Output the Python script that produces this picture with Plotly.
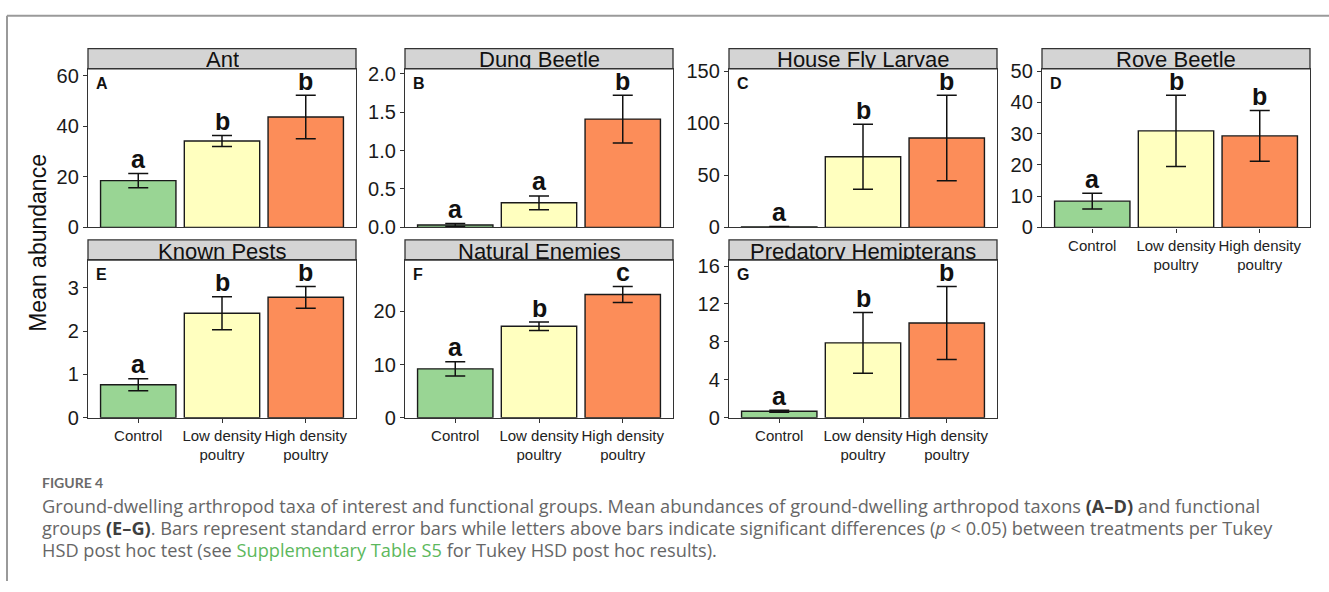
import plotly.graph_objects as go

W, H = 1329, 592

# ---------------- data ----------------
categories = ["Control", "Low density<br>poultry", "High density<br>poultry"]
bar_colors = ["#99D594", "#FFFFBF", "#FC8D59"]

panel_titles = ["Ant", "Dung Beetle", "House Fly Larvae", "Rove Beetle",
                "Known Pests", "Natural Enemies", "Predatory Hemipterans"]
panel_tags = ["A", "B", "C", "D", "E", "F", "G"]

ant_mean = [18.5, 34.2, 43.7]
ant_se = [2.8, 2.2, 8.6]
ant_letters = ["a", "b", "b"]

dung_mean = [0.03, 0.32, 1.41]
dung_se = [0.02, 0.09, 0.31]
dung_letters = ["a", "a", "b"]

fly_mean = [0.5, 67.8, 85.9]
fly_se = [0.3, 31.2, 41.0]
fly_letters = ["a", "b", "b"]

rove_mean = [8.4, 30.9, 29.3]
rove_se = [2.5, 11.4, 8.1]
rove_letters = ["a", "b", "b"]

pests_mean = [0.76, 2.41, 2.78]
pests_se = [0.14, 0.38, 0.25]
pests_letters = ["a", "b", "b"]

enemies_mean = [9.2, 17.2, 23.2]
enemies_se = [1.35, 0.8, 1.5]
enemies_letters = ["a", "b", "c"]

hemi_mean = [0.68, 7.9, 10.0]
hemi_se = [0.1, 3.2, 3.85]
hemi_letters = ["a", "b", "b"]

y_ticks = [
    [0, 20, 40, 60],
    [0.0, 0.5, 1.0, 1.5, 2.0],
    [0, 50, 100, 150],
    [0, 10, 20, 30, 40, 50],
    [0, 1, 2, 3],
    [0, 10, 20],
    [0, 4, 8, 12, 16],
]
y_ticktext = [
    ["0", "20", "40", "60"],
    ["0.0", "0.5", "1.0", "1.5", "2.0"],
    ["0", "50", "100", "150"],
    ["0", "10", "20", "30", "40", "50"],
    ["0", "1", "2", "3"],
    ["0", "10", "20"],
    ["0", "4", "8", "12", "16"],
]

means = [ant_mean, dung_mean, fly_mean, rove_mean, pests_mean, enemies_mean, hemi_mean]
ses = [ant_se, dung_se, fly_se, rove_se, pests_se, enemies_se, hemi_se]
letters = [ant_letters, dung_letters, fly_letters, rove_letters,
           pests_letters, enemies_letters, hemi_letters]

# ---------------- layout geometry (pixels) ----------------
cols_x = [(88, 356), (405, 673), (729, 997), (1042, 1310)]
rows_y = [(62, 226), (260, 423)]
strip_h = 21
panel_pos = [(0, 0), (0, 1), (0, 2), (0, 3), (1, 0), (1, 1), (1, 2)]
show_xlabels = [False, False, False, True, True, True, True]

FONT = "Liberation Sans, Arial, sans-serif"
LINEC = "#333333"


def fx(px):
    return px / W


def fy(py):
    return 1 - py / H


fig = go.Figure()
shapes = []
annotations = []
layout = {}

for i in range(7):
    n = i + 1
    r, c = panel_pos[i]
    x0, x1 = cols_x[c]
    y0, y1 = rows_y[r]
    xa = "x" if n == 1 else f"x{n}"
    ya = "y" if n == 1 else f"y{n}"

    tops = [m + s for m, s in zip(means[i], ses[i])]
    ymax = 1.2 * max(tops)

    fig.add_trace(go.Bar(
        x=categories, y=means[i],
        error_y=dict(type="data", array=ses[i], visible=True,
                     color="#111111", thickness=1.5, width=10),
        marker=dict(color=bar_colors, line=dict(color="#1a1a1a", width=1.4)),
        xaxis=xa, yaxis=ya, showlegend=False, hoverinfo="skip",
    ))

    layout["xaxis" if n == 1 else f"xaxis{n}"] = dict(
        domain=[fx(x0), fx(x1)], anchor=ya,
        type="category", categoryorder="array", categoryarray=categories,
        range=[-0.6, 2.6],
        showline=True, mirror=True, linecolor=LINEC, linewidth=1.3,
        showgrid=False, zeroline=False,
        ticks="outside" if show_xlabels[i] else "",
        ticklen=4, tickwidth=1.2, tickcolor=LINEC,
        showticklabels=show_xlabels[i], tickangle=0,
        tickfont=dict(family=FONT, size=15, color="#222222"),
        fixedrange=True,
    )
    layout["yaxis" if n == 1 else f"yaxis{n}"] = dict(
        domain=[fy(y1), fy(y0)], anchor=xa,
        range=[0, ymax],
        tickvals=y_ticks[i], ticktext=y_ticktext[i],
        showline=True, mirror=True, linecolor=LINEC, linewidth=1.3,
        showgrid=False, zeroline=False,
        ticks="outside", ticklen=4, tickwidth=1.2, tickcolor=LINEC,
        tickfont=dict(family=FONT, size=20, color="#1a1a1a"),
        fixedrange=True,
    )

    # strip
    shapes.append(dict(type="rect", xref="paper", yref="paper",
                       x0=fx(x0), x1=fx(x1), y0=fy(y0), y1=fy(y0 - strip_h),
                       fillcolor="#D4D4D4", line=dict(color=LINEC, width=1.3),
                       layer="below"))
    annotations.append(dict(xref="paper", yref="paper",
                            x=fx((x0 + x1) / 2), y=fy(y0 - strip_h / 2 + 1),
                            text=panel_titles[i], showarrow=False,
                            xanchor="center", yanchor="middle",
                            height=17, valign="middle",
                            font=dict(family=FONT, size=22, color="#111111")))
    # panel tag
    annotations.append(dict(xref="paper", yref="paper",
                            x=fx(x0 + 6), y=fy(y0 + 4),
                            text=f"<b>{panel_tags[i]}</b>", showarrow=False,
                            xanchor="left", yanchor="top",
                            font=dict(family=FONT, size=16, color="#111111")))
    # significance letters
    for k in range(3):
        annotations.append(dict(xref=xa, yref=ya, x=categories[k], y=tops[k],
                                text=f"<b>{letters[i][k]}</b>", showarrow=False,
                                xanchor="center", yanchor="bottom", yshift=-1.5,
                                height=22, valign="bottom",
                                font=dict(family=FONT, size=25, color="#111111")))

# y axis title
annotations.append(dict(xref="paper", yref="paper", x=fx(38), y=fy(242),
                        text="Mean abundance", textangle=-90, showarrow=False,
                        xanchor="center", yanchor="middle",
                        font=dict(family=FONT, size=23, color="#111111")))

# figure frame lines
shapes.append(dict(type="line", xref="paper", yref="paper",
                   x0=fx(7), x1=1, y0=fy(7), y1=fy(7),
                   line=dict(color="#9a9a9a", width=2)))
shapes.append(dict(type="line", xref="paper", yref="paper",
                   x0=fx(7), x1=fx(7), y0=fy(7), y1=0,
                   line=dict(color="#9a9a9a", width=2)))

# caption
CAP_FONT = "Open Sans, Lato, sans-serif"
CAP_COL = "#666666"
BOLD_COL = "#3f3f3f"
caption_lines = [
    "Ground-dwelling arthropod taxa of interest and functional groups. Mean abundances of ground-dwelling arthropod taxons "
    f"<span style='color:{BOLD_COL}'><b>(A–D)</b></span> and functional",
    f"groups <span style='color:{BOLD_COL}'><b>(E–G)</b></span>. Bars represent standard error bars while letters above bars "
    "indicate significant differences (<i>p</i> &lt; 0.05) between treatments per Tukey",
    "HSD post hoc test (see <span style='color:#5cb85c'>Supplementary Table S5</span> for Tukey HSD post hoc results).",
]
annotations.append(dict(xref="paper", yref="paper", x=fx(40), y=fy(490),
                        text="<b>FIGURE 4</b>", showarrow=False,
                        xanchor="left", yanchor="middle",
                        font=dict(family="Lato, sans-serif", size=14, color="#6a6a6a")))
for j, line in enumerate(caption_lines):
    annotations.append(dict(xref="paper", yref="paper", x=fx(40), y=fy(514 + 23 * j),
                            text=line, showarrow=False,
                            xanchor="left", yanchor="middle",
                            font=dict(family=CAP_FONT, size=18.2, color=CAP_COL)))

fig.update_layout(
    width=W, height=H, autosize=False,
    margin=dict(l=0, r=0, t=0, b=0),
    paper_bgcolor="white", plot_bgcolor="white",
    bargap=0.1,
    shapes=shapes, annotations=annotations,
    **layout,
)

fig.write_html("out.html", config={"displayModeBar": False})
